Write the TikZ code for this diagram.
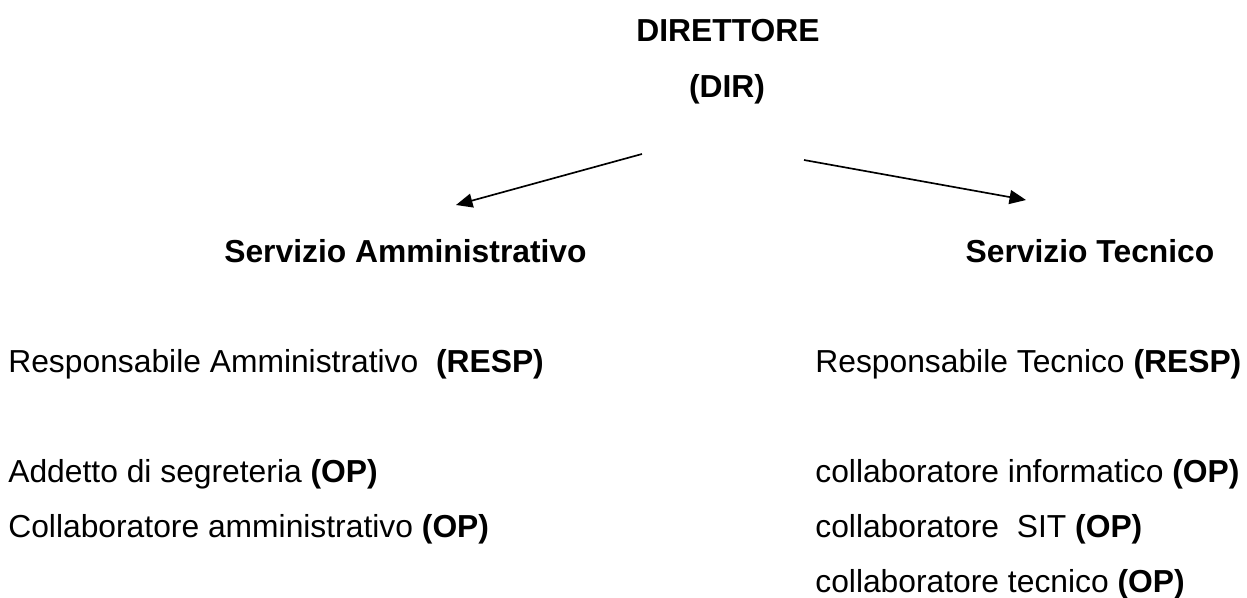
\documentclass[tikz,border=0pt]{standalone}
\usepackage{fontspec}
\setmainfont{Liberation Sans}
\usepackage{tikz}
\usetikzlibrary{arrows.meta}

\begin{document}
\begin{tikzpicture}[x=0.02cm, y=-0.02cm, >={Triangle[length=0.33cm, width=0.28cm]},
  title/.style={font=\fontsize{18.1}{21}\selectfont\bfseries, inner sep=0pt, anchor=base},
  role/.style={font=\fontsize{18.1}{21}\selectfont, inner sep=0pt, anchor=base west},
  link/.style={->, line width=0.95pt}]

  \useasboundingbox (0,0) rectangle (1247,598);

  % ---------- Top: director ----------
  \node[title] (dir) at (728,42) {DIRETTORE};
  \node[title] (dirabbr) at (727,97) {(DIR)};
  \coordinate (dirleft) at (642,154);
  \coordinate (dirright) at (804,160);
  \coordinate (ammtop) at (456,205);
  \coordinate (tectop) at (1026,200);
  \draw[link] (dirleft) -- (ammtop);
  \draw[link] (dirright) -- (tectop);

  % ---------- Left column: administrative service ----------
  \node[title, anchor=base west] (amm) at (224,262) {Servizio Amministrativo};
  \node[role] (ammresp) at (8,372) {Responsabile Amministrativo\ \ \textbf{(RESP)}};
  \node[role] (ammseg) at (8,482) {Addetto di segreteria \textbf{(OP)}};
  \node[role] (ammcoll) at (8,537) {Collaboratore amministrativo \textbf{(OP)}};

  % ---------- Right column: technical service ----------
  \node[title] (tec) at (1090,262) {Servizio Tecnico};
  \node[role] (tecresp) at (815,372) {Responsabile Tecnico \textbf{(RESP)}};
  \node[role] (tecinf) at (815,482) {collaboratore informatico \textbf{(OP)}};
  \node[role] (tecsit) at (815,537) {collaboratore\ \ SIT \textbf{(OP)}};
  \node[role] (tectec) at (815,592) {collaboratore tecnico \textbf{(OP)}};

\end{tikzpicture}
\end{document}
